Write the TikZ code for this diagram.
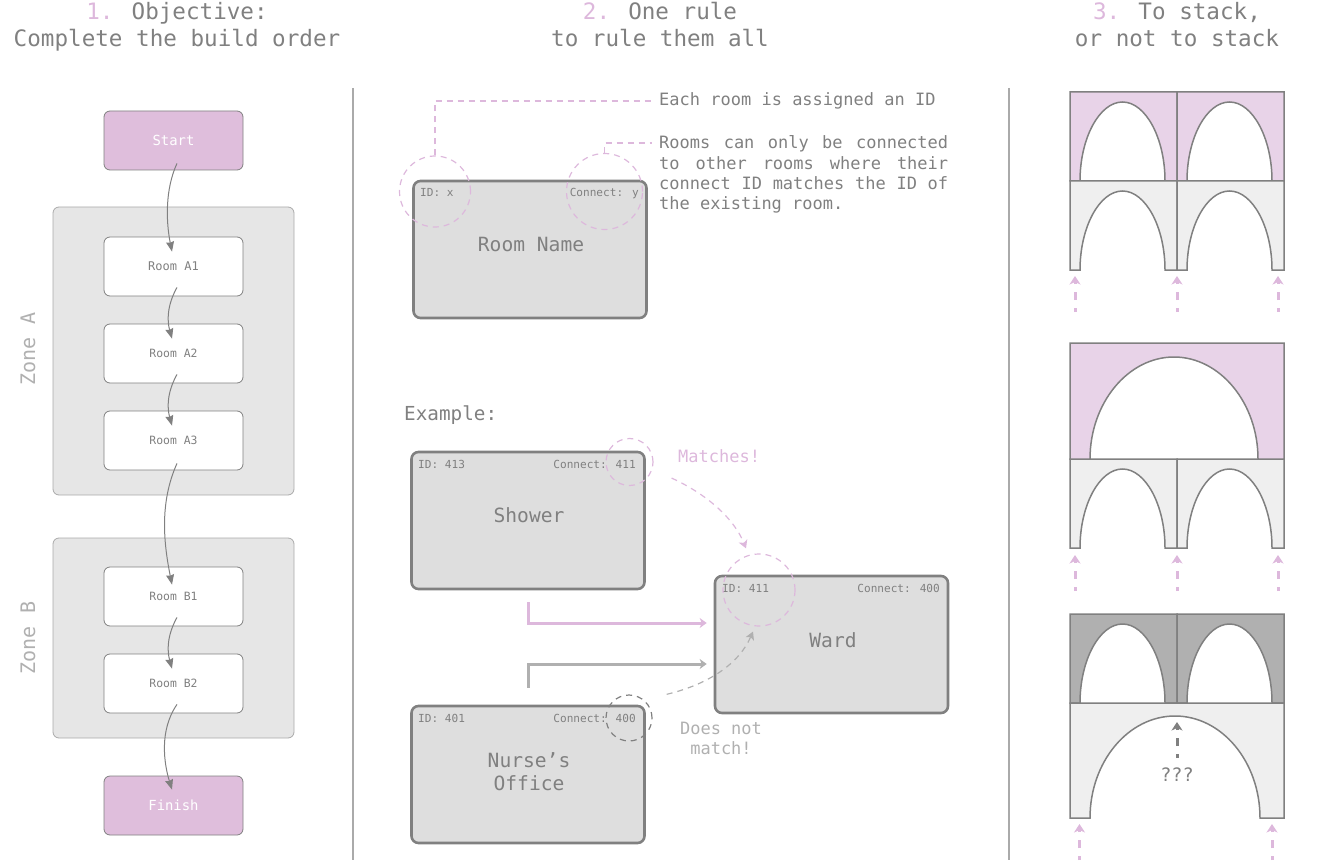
\documentclass[tikz,border=0pt]{standalone}
\usepackage{fontspec}
\setmainfont{DejaVu Sans Mono}
\usepackage{xcolor}
\usetikzlibrary{positioning, arrows.meta}
\definecolor{inkgray}{RGB}{128,128,128}
\definecolor{softgray}{RGB}{176,176,176}
\definecolor{ruleline}{RGB}{170,170,170}
\definecolor{orchid}{RGB}{221,184,220}
\definecolor{orchidbox}{RGB}{223,190,220}
\definecolor{orchidwall}{RGB}{232,211,232}
\definecolor{zonebg}{RGB}{230,230,230}
\definecolor{roombg}{RGB}{222,222,222}
\definecolor{wallbg}{RGB}{239,239,239}
\definecolor{darkwall}{RGB}{176,176,176}
\tikzset{
  title/.style={align=center, text=inkgray, font=\fontsize{22.6}{27}\selectfont},
  flowbox/.style={draw=inkgray, rounded corners=6pt, minimum width=139pt,
    minimum height=59pt, inner sep=0pt, line width=0.8pt},
  zone/.style={draw=ruleline, fill=zonebg, rounded corners=6pt, minimum width=241pt,
    inner sep=0pt, line width=0.8pt},
  zonelabel/.style={rotate=90, text=softgray, font=\fontsize{20}{24}\selectfont},
  room/.style={draw=inkgray, fill=roombg, rounded corners=7pt, minimum width=233pt,
    minimum height=137pt, inner sep=0pt, line width=2.6pt, align=center, text=inkgray,
    font=\fontsize{19.6}{23.5}\selectfont},
  tag/.style={text=inkgray, inner sep=0pt, font=\fontsize{11.1}{13}\selectfont},
  note/.style={text=inkgray, inner sep=0pt, font=\fontsize{17}{20.3}\selectfont},
  ring/.style={circle, draw=orchid, dashed, line width=1.2pt, inner sep=0pt,
    dash pattern=on 6pt off 5pt},
  leader/.style={draw=orchid, line width=1.2pt, dash pattern=on 6pt off 5pt},
  flow/.style={draw=inkgray, line width=1pt, -{Stealth[length=10pt,width=8pt,inset=1pt]}},
  wall/.style={draw=inkgray, line width=1.5pt},
  support/.style={line width=3pt, dash pattern=on 4pt off 8pt on 8pt off 8pt,
    -{Stealth[length=8.5pt,width=11pt,inset=2.5pt]}},
}

\begin{document}
\begin{tikzpicture}[x=1pt, y=-1pt]
  \useasboundingbox (0,0) rectangle (1322,861);

  %% ── titles ──
  \node[title] (T1) at (177,26.5) {\textcolor{orchid}{1.} Objective:\\Complete the build order};
  \node[title] (T2) at (660,24.5) {\textcolor{orchid}{2.} One rule\\to rule them all};
  \node[title] (T3) at (1177,24.5) {\textcolor{orchid}{3.} To stack,\\or not to stack};

  %% ── dividers ──
  \draw[ruleline, line width=1.2pt] (353,88) -- (353,860);
  \draw[ruleline, line width=1.2pt] (1009,88) -- (1009,860);

  %% ── build order (left column) ──
  \node[zone, minimum height=288pt] (ZA) at (173.5,351) {};
  \node[zone, minimum height=200pt] (ZB) at (173.5,638) {};
  \node[zonelabel] (ZAL) at (28,349) {Zone A};
  \node[zonelabel] (ZBL) at (28,638) {Zone B};
  \node[flowbox, fill=orchidbox, text=white, font=\fontsize{13.9}{16}\selectfont]
    (ST) at (173.5,140.5) {Start};
  \node[flowbox, fill=white, text=inkgray, font=\fontsize{12}{14}\selectfont]
    (A1) at (173.5,266.5) {Room A1};
  \node[flowbox, fill=white, text=inkgray, font=\fontsize{11.4}{14}\selectfont]
    (A2) at (173.5,353.5) {Room A2};
  \node[flowbox, fill=white, text=inkgray, font=\fontsize{11.4}{14}\selectfont]
    (A3) at (173.5,440.5) {Room A3};
  \node[flowbox, fill=white, text=inkgray, font=\fontsize{11.4}{14}\selectfont]
    (B1) at (173.5,596.5) {Room B1};
  \node[flowbox, fill=white, text=inkgray, font=\fontsize{11.4}{14}\selectfont]
    (B2) at (173.5,683.5) {Room B2};
  \node[flowbox, fill=orchidbox, text=white, font=\fontsize{13.9}{16}\selectfont]
    (FN) at (173.5,805.5) {Finish};

  %% ── build order arrows ──
  \draw[flow] ([xshift=3.5pt,yshift=7pt]ST.south) .. controls +(-12,26) and +(-6,-30) .. ([xshift=-1.5pt,yshift=-15pt]A1.north);
  \draw[flow] ([xshift=3.5pt,yshift=9pt]A1.south) .. controls +(-10,18) and +(-5,-18) .. ([xshift=-1.5pt,yshift=-15pt]A2.north);
  \draw[flow] ([xshift=3.5pt,yshift=9pt]A2.south) .. controls +(-10,18) and +(-5,-18) .. ([xshift=-1.5pt,yshift=-15pt]A3.north);
  \draw[flow] ([xshift=3.5pt,yshift=7pt]A3.south) .. controls +(-18,40) and +(-8,-40) .. ([xshift=-1.5pt,yshift=-18pt]B1.north);
  \draw[flow] ([xshift=3.5pt,yshift=9pt]B1.south) .. controls +(-10,18) and +(-5,-18) .. ([xshift=-1.5pt,yshift=-15pt]B2.north);
  \draw[flow] ([xshift=3.5pt,yshift=9pt]B2.south) .. controls +(-18,26) and +(-8,-26) .. ([xshift=-1.5pt,yshift=-14pt]FN.north);

  %% ── one rule (legend room) ──
  \node[room] (RN) at (530,249.5) {};
  \node[text=inkgray, inner sep=0pt, font=\fontsize{19.6}{23.5}\selectfont] (RNL) at (531,244) {Room Name};
  \node[tag, anchor=west] (RNI) at (420,192) {ID: x};
  \node[tag, anchor=east] (RNC) at (639,193.5) {Connect: y};
  \node[ring, minimum size=71pt] (RI) at (435,191.5) {};
  \node[ring, minimum size=76pt] (RC) at (604.5,191.5) {};
  \node[note, anchor=west] (N1) at (659,101) {Each room is assigned an ID};
  \node[note, anchor=north west, text width=289pt, align=justify] (N2) at (659,135.5)
    {\spaceskip=0.6em plus 1em\relax\hyphenpenalty=10000 Rooms can only be connected to other rooms where their connect ID matches the ID of the existing room.};
  \coordinate (N2T) at (652,143);
  \draw[leader] (RI.north) |- ([xshift=-7pt]N1.west);
  \draw[leader] (RC.north) |- (N2T);

  %% ── example rooms ──
  \node[note, anchor=west, font=\fontsize{19.3}{23}\selectfont] (EX) at (404,415.5) {Example:};
  \node[room] (SH) at (528,520.5) {};
  \node[text=inkgray, inner sep=0pt, font=\fontsize{19.6}{23.5}\selectfont] (SHL) at (529,515) {Shower};
  \node[room] (WD) at (831.5,644.5) {};
  \node[text=inkgray, inner sep=0pt, font=\fontsize{19.6}{23.5}\selectfont] (WDL) at (833,640) {Ward};
  \node[room] (NO) at (528,774.5) {};
  \node[text=inkgray, inner sep=0pt, align=center, font=\fontsize{19.6}{23.5}\selectfont] (NOL) at (529,771.5) {Nurse's\\Office};
  \node[tag, anchor=west] (SHI) at (418,464) {ID: 413};
  \node[tag, anchor=east] (SHC) at (636,464) {Connect: 411};
  \node[tag, anchor=west] (WDI) at (722,588) {ID: 411};
  \node[tag, anchor=east] (WDC) at (940,588) {Connect: 400};
  \node[tag, anchor=west] (NOI) at (418,718) {ID: 401};
  \node[tag, anchor=east] (NOC) at (636,718) {Connect: 400};
  \node[ring, minimum size=47pt] (CM) at (629.5,462) {};
  \node[ring, minimum size=72pt] (CW) at (759,590) {};
  \node[ring, minimum size=46pt, draw=inkgray] (CN) at (629,718) {};

  %% ── example arrows ──
  \draw[line width=3pt, orchid, shorten <=12pt, -{Stealth[length=7pt,width=10pt,inset=2pt]}]
    (SH.south) |- ([xshift=-7pt,yshift=21.5pt]WD.west);
  \draw[line width=3pt, softgray, shorten <=17pt, -{Stealth[length=7pt,width=10pt,inset=2pt]}]
    (NO.north) |- ([xshift=-7pt,yshift=-19.5pt]WD.west);
  \draw[leader, -{Stealth[length=8pt,width=9pt,inset=2pt]}]
    ([xshift=25pt,yshift=1pt]CM.south east) .. controls +(35,16) and +(-12,-30) .. ([xshift=-13pt,yshift=5pt]CW.north);
  \draw[leader, softgray, -{Stealth[length=8pt,width=9pt,inset=2pt]}]
    ([xshift=21pt,yshift=7pt]CN.north east) .. controls +(42,-10) and +(-14,32) .. ([xshift=-6pt,yshift=-5pt]CW.south);
  \node[note, anchor=west, text=orchid] (MT) at (678,456) {Matches!};
  \node[note, text=softgray, align=center] (NM) at (721,738.5) {Does not\\match!};

  %% ── stacks (right column) ──
  \foreach \xa/\ya/\ca in {1070/92/orchidwall, 1177/92/orchidwall, 1070/181/wallbg, 1177/181/wallbg,
                           1070/459/wallbg, 1177/459/wallbg, 1070/614/darkwall, 1177/614/darkwall}
    \draw[wall, fill=\ca] (\xa,\ya) -- ++(107,0) -- ++(0,89) -- ++(-12,0)
      .. controls +(0,-43) and +(23,0) .. ++(-42.5,-79)
      .. controls +(-23,0) and +(0,-43) .. ++(-42.5,79) -- ++(-10,0) -- cycle;
  \draw[wall, fill=orchidwall] (1070,343) -- (1284,343) -- (1284,459) -- (1258,459)
    .. controls (1258,403) and (1220,357) .. (1174,357)
    .. controls (1128,357) and (1090,403) .. (1090,459) -- (1070,459) -- cycle;
  \draw[wall, fill=wallbg] (1070,703) -- (1284,703) -- (1284,818) -- (1260,818)
    .. controls (1260,762) and (1222,716) .. (1175,716)
    .. controls (1128,716) and (1090,762) .. (1090,818) -- (1070,818) -- cycle;

  %% ── support arrows ──
  \foreach \xa/\ya in {1075/312, 1177/312, 1278/312, 1075/591, 1177/591, 1278/591, 1079.5/860, 1272/860}
    \draw[support, orchid] (\xa,\ya) -- ++(0,-36);
  \draw[support, inkgray] (1177,758) -- ++(0,-36);
  \node[text=inkgray, inner sep=0pt, font=\fontsize{18.5}{22}\selectfont] (QQ) at (1177,775) {???};
\end{tikzpicture}
\end{document}
